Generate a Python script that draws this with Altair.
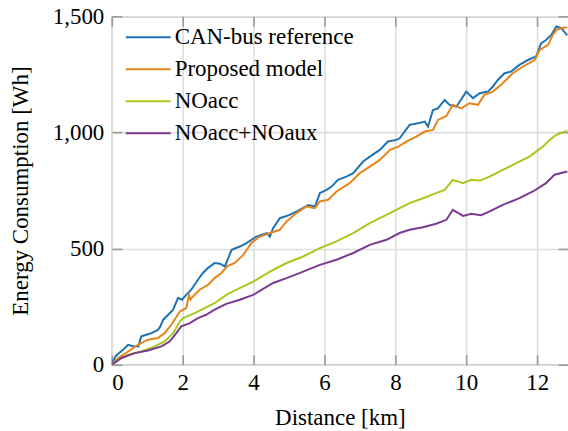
import altair as alt
import pandas as pd

# Series names and colours, in legend order
series_names = ["CAN-bus reference", "Proposed model", "NOacc", "NOacc+NOaux"]
series_colors = ["#1f72b4", "#e5861c", "#a7c81c", "#7b3a92"]

# CAN-bus reference (distance in km, cumulative energy in Wh)
can_km = [0, 0.10, 0.15, 0.30, 0.46, 0.60, 0.75, 0.83, 1.00, 1.12, 1.30, 1.37, 1.45, 1.59,
          1.73, 1.87, 1.98, 2.10, 2.24, 2.43, 2.57, 2.71, 2.90, 3.05, 3.19, 3.38, 3.61,
          3.80, 4.08, 4.37, 4.46, 4.55, 4.74, 5.02, 5.30, 5.54, 5.73, 5.87, 6.06, 6.20,
          6.38, 6.62, 6.81, 7.09, 7.28, 7.56, 7.79, 8.03, 8.12, 8.40, 8.64, 8.83, 8.92,
          9.06, 9.20, 9.39, 9.53, 9.72, 10.00, 10.19, 10.38, 10.61, 10.75, 10.89, 11.08,
          11.26, 11.50, 11.74, 11.97, 12.11, 12.25, 12.40, 12.54, 12.68, 12.85]
can_wh = [0, 35, 43, 62, 86, 80, 79, 122, 130, 136, 150, 165, 194, 215,
          237, 288, 280, 301, 323, 366, 395, 416, 438, 435, 423, 495, 509,
          524, 552, 567, 552, 588, 631, 645, 667, 688, 681, 739, 753, 767,
          796, 810, 825, 875, 896, 925, 961, 968, 975, 1033, 1040, 1047, 1025,
          1097, 1104, 1140, 1119, 1111, 1176, 1148, 1169, 1176, 1198, 1226, 1255,
          1262, 1291, 1312, 1327, 1384, 1398, 1420, 1456, 1449, 1418]

# Proposed model
prop_km = [0, 0.18, 0.46, 0.74, 1.02, 1.30, 1.49, 1.68, 1.92, 2.10, 2.18, 2.22, 2.29, 2.48,
           2.71, 2.90, 3.09, 3.26, 3.47, 3.71, 3.94, 4.18, 4.46, 4.74, 4.93, 5.21, 5.49,
           5.73, 5.87, 6.10, 6.34, 6.71, 7.00, 7.28, 7.56, 7.85, 8.08, 8.31, 8.59, 8.83,
           9.06, 9.20, 9.44, 9.62, 9.86, 10.09, 10.33, 10.51, 10.75, 11.03, 11.31, 11.60,
           11.93, 12.07, 12.31, 12.44, 12.54, 12.68, 12.85]
prop_wh = [0, 29, 57, 86, 108, 115, 136, 172, 229, 244, 300, 280, 294, 323,
           344, 373, 395, 425, 438, 473, 524, 552, 567, 581, 617, 653, 681,
           674, 703, 710, 746, 782, 825, 853, 882, 925, 939, 961, 982, 1004,
           1011, 1054, 1071, 1119, 1104, 1126, 1119, 1162, 1176, 1212, 1255, 1284,
           1312, 1355, 1377, 1420, 1441, 1449, 1453]

# Model without acceleration term
noacc_km = [0, 0.18, 0.46, 0.83, 1.21, 1.49, 1.73, 1.92, 2.01, 2.34, 2.62, 2.90, 3.23, 3.52,
            3.99, 4.46, 4.93, 5.40, 5.87, 6.34, 6.81, 7.28, 7.75, 8.12, 8.40, 8.78, 9.15,
            9.39, 9.62, 9.91, 10.14, 10.38, 10.66, 11.03, 11.41, 11.78, 12.16, 12.35,
            12.54, 12.85]
noacc_wh = [0, 21, 43, 57, 79, 100, 136, 186, 201, 222, 244, 265, 301, 323,
            358, 401, 438, 466, 502, 531, 567, 610, 645, 674, 696, 717, 739,
            753, 796, 782, 796, 793, 810, 839, 868, 896, 939, 968,
            990, 1008]

# Model without acceleration and auxiliary terms
noaux_km = [0, 0.27, 0.65, 1.02, 1.40, 1.63, 1.82, 1.96, 2.20, 2.43, 2.66, 2.90, 3.23, 3.61,
            3.99, 4.55, 4.93, 5.40, 5.87, 6.34, 6.81, 7.28, 7.75, 8.12, 8.40, 8.78, 9.15,
            9.44, 9.62, 9.91, 10.14, 10.42, 10.66, 11.03, 11.50, 11.88, 12.25, 12.49, 12.85]
noaux_wh = [0, 29, 50, 61, 79, 100, 136, 165, 179, 201, 215, 237, 262, 280,
            301, 352, 373, 401, 430, 452, 481, 516, 538, 567, 581, 592, 607,
            624, 667, 641, 650, 644, 660, 688, 717, 746, 782, 818, 832]

x_ticks = [0, 2, 4, 6, 8, 10, 12]
y_ticks = [0, 500, 1000, 1500]

frames = []
for name, km, wh in zip(series_names,
                        [can_km, prop_km, noacc_km, noaux_km],
                        [can_wh, prop_wh, noacc_wh, noaux_wh]):
    frames.append(pd.DataFrame({"series": name, "km": km, "wh": wh}))
df = pd.concat(frames, ignore_index=True)
df["idx"] = range(len(df))

FONT = "Liberation Serif"
FS = 23
W, H = 457, 349
X_SCALE = alt.Scale(domain=[0, 12.87], nice=False, zero=False)
Y_SCALE = alt.Scale(domain=[0, 1500], nice=False)

# Main layer: the four curves with labelled axes, grid and legend
lines = alt.Chart(df).mark_line(strokeWidth=2, clip=True).encode(
    x=alt.X("km:Q", scale=X_SCALE,
            axis=alt.Axis(values=x_ticks, title="Distance [km]", ticks=False,
                          domain=False, labelPadding=7, titlePadding=12)),
    y=alt.Y("wh:Q", scale=Y_SCALE,
            axis=alt.Axis(values=y_ticks, format=",d", title="Energy Consumption [Wh]",
                          ticks=False, domain=False, labelPadding=8, titlePadding=20)),
    color=alt.Color("series:N",
                    scale=alt.Scale(domain=series_names, range=series_colors),
                    legend=alt.Legend(orient="none", legendX=25, legendY=9.5, title=None,
                                      symbolType="M-3,0H3", symbolSize=225,
                                      symbolStrokeWidth=2, labelFont=FONT,
                                      labelFontSize=FS, labelColor="black", labelLimit=0,
                                      labelOffset=15, rowPadding=8, padding=0)),
    order="idx:Q",
)

# Inward tick marks on all four sides of the frame
tick_style = dict(labels=False, domain=False, grid=False, ticks=True, tickSize=10,
                  tickColor="#9a9a9a", tickWidth=1.6, title=None)


def tick_layer(x_orient, y_orient):
    return alt.Chart(df).mark_line(opacity=0).encode(
        x=alt.X("km:Q", scale=X_SCALE,
                axis=alt.Axis(values=x_ticks, orient=x_orient, offset=-H, **tick_style)),
        y=alt.Y("wh:Q", scale=Y_SCALE,
                axis=alt.Axis(values=y_ticks, orient=y_orient, offset=-W, **tick_style)),
        detail="series:N",
    )


chart = alt.layer(
    lines,
    tick_layer("top", "right"),
    tick_layer("bottom", "left"),
).resolve_axis(
    x="independent", y="independent"
).properties(
    width=W,
    height=H,
    autosize=alt.AutoSizeParams(type="none"),
    padding={"left": 112, "top": 16, "right": 0, "bottom": 66},
).configure_view(
    stroke="#222222", strokeWidth=1
).configure_axis(
    labelFont=FONT, labelFontSize=FS, labelColor="black",
    titleFont=FONT, titleFontSize=FS, titleFontWeight="normal", titleColor="black",
    grid=True, gridColor="#dedede", gridWidth=1.6,
)

chart.save("out.html", embed_options={"renderer": "svg", "actions": False})
